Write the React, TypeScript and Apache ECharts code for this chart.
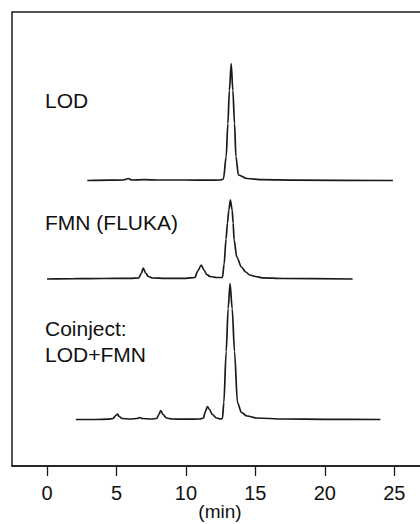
import React, { useEffect, useRef } from "react";
import * as echarts from "echarts";

// Retention time (min) vs detector signal (arbitrary units) for each run
const lodTrace: [number, number][] = [
  [2.9, 0], [4.5, 0.3], [5.5, 0.5], [5.86, 2], [6.1, 0.5], [7, 0.8], [8, 0.5],
  [10, 0.5], [11.5, 0.3], [12.5, 0.5], [12.7, 1.5], [12.9, 24], [13.02, 57],
  [13.13, 90], [13.26, 117], [13.38, 90], [13.5, 57], [13.6, 24], [13.78, 5.5],
  [14.4, 2], [15.5, 0.8], [18, 0.3], [24.9, 0],
];

const fmnTrace: [number, number][] = [
  [0, 0], [2, 0.3], [4, 0.5], [6, 0.6], [6.6, 1], [6.8, 6], [6.93, 11],
  [7.1, 6], [7.3, 2.5], [7.6, 1], [8.5, 0.6], [10, 0.6], [10.65, 1.5],
  [10.85, 8], [11.1, 14], [11.3, 9], [11.5, 4.5], [11.75, 2.5], [12.2, 1.5],
  [12.63, 1.5], [12.75, 15], [12.89, 40], [12.99, 56], [13.09, 69], [13.2, 79],
  [13.33, 69], [13.4, 56], [13.47, 39], [13.66, 22], [14.0, 12], [14.3, 7],
  [14.6, 4], [15.0, 2.5], [15.5, 1.2], [17, 0.5], [22, 0],
];

const coinjectTrace: [number, number][] = [
  [2.07, 0], [3.5, 0], [4.4, 0.3], [4.75, 1], [4.95, 4], [5.07, 5.5], [5.2, 3],
  [5.4, 1], [6.0, 0.5], [6.5, 1], [6.65, 2], [6.85, 1], [7.5, 0.5], [7.9, 1],
  [8.05, 5], [8.19, 9], [8.35, 5], [8.6, 1.5], [9, 0.5], [10, 0.3], [11, 0.5],
  [11.26, 1.5], [11.4, 8], [11.55, 13], [11.7, 10], [11.9, 5], [12.2, 1.5],
  [12.5, 0.5], [12.63, 1], [12.73, 17], [12.9, 68], [13.04, 111], [13.18, 136],
  [13.33, 111], [13.5, 68], [13.71, 17], [14.0, 7], [14.4, 3.5], [15.1, 1.5],
  [17, 0.5], [20, 0.2], [24, 0],
];

// vertical stacking offsets of the three chromatograms
const traceOffsets = { lod: 285.5, fmn: 187, coinject: 46.5 };

const xTicks = [0, 5, 10, 15, 20, 25];
const xAxisName = "(min)";
const labels = { lod: "LOD", fmn: "FMN (FLUKA)", coinject1: "Coinject:", coinject2: "LOD+FMN" };

const FONT = "'Liberation Sans', Arial, Helvetica, sans-serif";

export default function App() {
  const ref = useRef<HTMLDivElement>(null);
  useEffect(() => {
    if (!ref.current) return;
    const chart = echarts.init(ref.current, null, { renderer: "svg" });
    const shift = (d: [number, number][], off: number) => d.map(([x, y]) => [x, y + off]);
    const lineStyle = { color: "#1a1a1a", width: 1.7 };
    const mk = (name: string, data: number[][]) => ({
      name,
      type: "line",
      data,
      showSymbol: false,
      smooth: 0.3,
      smoothMonotone: "x",
      lineStyle,
      silent: true,
    });
    const textStyle = (
      text: string,
      x: number,
      y: number,
      size = 21,
      align = "left"
    ) => ({
      type: "text",
      x,
      y,
      style: {
        text,
        fontSize: size,
        fontFamily: FONT,
        fill: "#111",
        verticalAlign: "middle",
        align,
      },
    });
    chart.setOption({
      animation: false,
      backgroundColor: "#fff",
      grid: {
        left: 12,
        top: 12,
        width: 417,
        height: 454,
        show: true,
        borderColor: "#1a1a1a",
        borderWidth: 1.5,
        containLabel: false,
        outerBoundsMode: "none",
      },
      xAxis: {
        type: "value",
        min: -2.52,
        max: 27.5,
        splitLine: { show: false },
        axisLine: { show: true, onZero: false, lineStyle: { color: "#1a1a1a", width: 1.5 } },
        axisTick: {
          show: true,
          length: 10,
          customValues: xTicks,
          lineStyle: { color: "#1a1a1a", width: 1.3 },
        },
        axisLabel: {
          customValues: xTicks,
          fontSize: 20,
          fontFamily: FONT,
          color: "#111",
          margin: 17,
        },
      },
      yAxis: { type: "value", min: 0, max: 454, show: false },
      series: [
        mk("LOD", shift(lodTrace, traceOffsets.lod)),
        mk("FMN", shift(fmnTrace, traceOffsets.fmn)),
        mk("Coinject", shift(coinjectTrace, traceOffsets.coinject)),
      ],
      graphic: [
        textStyle(labels.lod, 45, 100),
        textStyle(labels.fmn, 45, 222),
        textStyle(labels.coinject1, 45, 328),
        textStyle(labels.coinject2, 45, 354),
        textStyle(xAxisName, 220, 511, 19, "center"),
      ],
    });
    return () => chart.dispose();
  }, []);
  return (
    <div
      ref={ref}
      style={{ position: "absolute", left: 0, top: 0, width: 420, height: 524 }}
    />
  );
}
